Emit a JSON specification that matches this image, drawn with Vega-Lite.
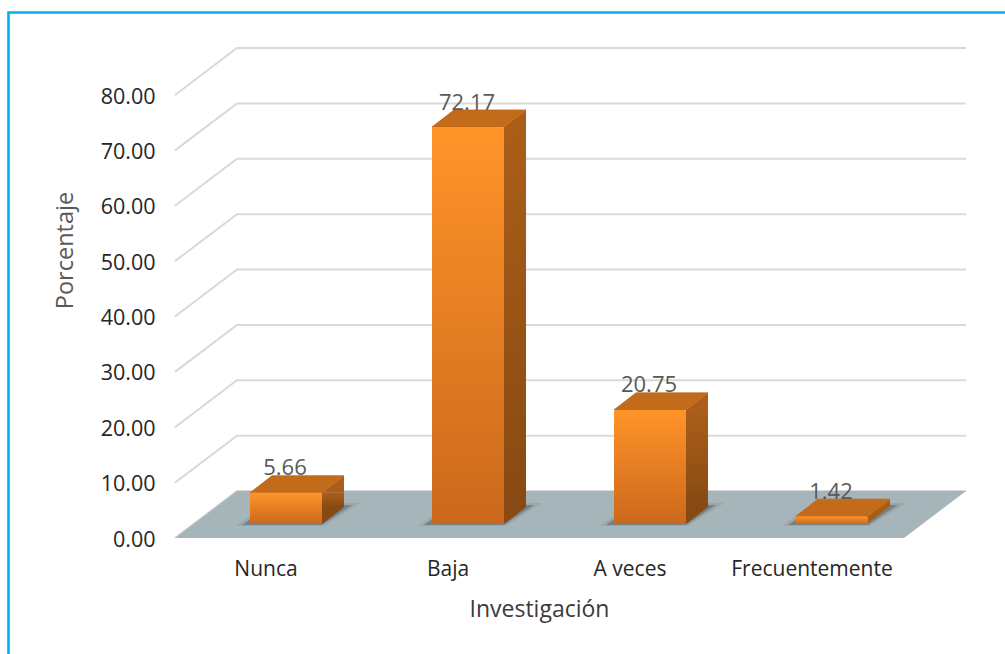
{
"$schema":"https://vega.github.io/schema/vega-lite/v6.json",
"width":728,"height":443,
"autosize":{"type":"none"},
"padding":{"left":175,"right":102,"top":95,"bottom":116},
"background":"white",
"config":{"view":{"stroke":null},"font":"Open Sans"},
"datasets":{
"bars":[{"categoria":"Nunca","valor":5.66},{"categoria":"Baja","valor":72.17},{"categoria":"A veces","valor":20.75},{"categoria":"Frecuentemente","valor":1.42}],
"ticks":[{"t":0},{"t":10},{"t":20},{"t":30},{"t":40},{"t":50},{"t":60},{"t":70},{"t":80}]
},
"layer":[
{"data":{"name":"ticks"},
 "mark":{"type":"point","shape":"M-91,0L-29,-47L700,-47","size":4,"filled":false,"stroke":"#D9D9D9","strokeWidth":2,"opacity":1},
 "encoding":{
  "x":{"datum":"Nunca","type":"nominal","scale":{"domain":["Nunca","Baja","A veces","Frecuentemente"]},
   "axis":{"title":"Investigación","labelAngle":0,"domain":false,"ticks":false,"grid":false,"labelFontSize":21,"labelColor":"#262626","labelPadding":20,"titleFontSize":23,"titleFontWeight":"normal","titleColor":"#3B3B3B","titlePadding":19,"labelFont":"Open Sans","titleFont":"Open Sans"}},
  "y":{"field":"t","type":"quantitative","scale":{"domain":[0,80]},
   "axis":{"title":"Porcentaje","values":[0,10,20,30,40,50,60,70,80],"format":".2f","domain":false,"ticks":false,"grid":false,"labelFontSize":21.5,"labelColor":"#262626","labelPadding":20,"labelOffset":2,"titleFontSize":23.5,"titleFontWeight":"normal","titleColor":"#595959","titleX":-98,"titleY":155,"labelFont":"Open Sans","titleFont":"Open Sans"}}
 }},
{"data":{"name":"bars"},
 "encoding":{
  "x":{"field":"categoria","type":"nominal","sort":["Nunca","Baja","A veces","Frecuentemente"],
   "axis":{"title":"Investigación","labelAngle":0,"domain":false,"ticks":false,"grid":false,"labelFontSize":21,"labelColor":"#262626","labelPadding":20,"titleFontSize":23,"titleFontWeight":"normal","titleColor":"#3B3B3B","titlePadding":19,"labelFont":"Open Sans","titleFont":"Open Sans"}},
  "y":{"field":"valor","type":"quantitative","scale":{"domain":[0,80.55]},"axis":null}
 },
 "layer":[
  {"transform":[{"filter":"datum.categoria==='Nunca'"}],
   "mark":{"type":"point","shape":"M-91,0L638,0L700,-47L-29,-47Z","size":4,"filled":true,"fill":"#A6B5B9","opacity":1,"strokeWidth":0},
   "encoding":{"y":{"datum":0,"type":"quantitative"}}},
  {"transform":[{"filter":"datum.valor>0"}],
   "mark":{"type":"point","shape":"M-30,-12L58,-12L94,-35L2,-35Z","size":4,"filled":true,"fill":"#8A979A","opacity":0.4,"strokeWidth":0},
   "encoding":{"y":{"datum":0,"type":"quantitative"}}},
  {"transform":[{"filter":"datum.valor>0"}],
   "mark":{"type":"point","shape":"M-24,-13L56,-13L86,-33L4,-33Z","size":4,"filled":true,"fill":"#5F6B6E","opacity":0.6,"strokeWidth":0},
   "encoding":{"y":{"datum":0,"type":"quantitative"}}},
  {"transform":[{"filter":"datum.valor>3"}],
   "mark":{"type":"bar","width":22,"xOffset":67,"yOffset":-14,"y2Offset":-31,"color":{"x1":0,"y1":0,"x2":0,"y2":1,"gradient":"linear","stops":[{"offset":0,"color":"#AB5E19"},{"offset":1,"color":"#874A12"}]}},
   "encoding":{"y2":{"datum":0}}},
  {"transform":[{"filter":"datum.valor>3"}],
   "mark":{"type":"point","shape":"M56,-14L78,-31L78,-14Z","size":4,"filled":true,"fill":"#AB5E19","opacity":1,"strokeWidth":0}},
  {"transform":[{"filter":"datum.valor>3"}],
   "mark":{"type":"point","shape":"M56,-14L56,-31L78,-31Z","size":4,"filled":true,"fill":"#874A12","opacity":1,"strokeWidth":0},
   "encoding":{"y":{"datum":0,"type":"quantitative"}}},
  {"transform":[{"filter":"datum.valor<=3"}],
   "mark":{"type":"point","shape":"M56,-14L78,-31L78,-24L56,-7Z","size":4,"filled":true,"fill":"#A85C18","opacity":1,"strokeWidth":0}},
  {"mark":{"type":"point","shape":"M-16,-14L56,-14L78,-31L6,-31Z","size":4,"filled":true,"fill":"#C26C1B","stroke":"#C26C1B","strokeWidth":1,"strokeJoin":"round","opacity":1}},
  {"mark":{"type":"bar","width":72,"xOffset":20,"yOffset":-14,"y2Offset":-14,"cornerRadius":2,"color":{"x1":0,"y1":0,"x2":0,"y2":1,"gradient":"linear","stops":[{"offset":0,"color":"#FF9429"},{"offset":1,"color":"#CB681C"}]}},
   "encoding":{"y2":{"datum":0}}},
  {"mark":{"type":"text","dx":19,"dy":-38.5,"fontSize":22,"color":"#595959","font":"Open Sans"},
   "encoding":{"text":{"field":"valor","type":"quantitative","format":".2f"}}},
  {"transform":[{"filter":"datum.categoria==='Nunca'"}],
   "mark":{"type":"point","shape":"M-257.5,122L-257.5,-525.5L744,-525.5","size":4,"filled":false,"stroke":"#00B0F0","strokeWidth":2.6,"opacity":1},
   "encoding":{"y":{"datum":0,"type":"quantitative"}}}
 ]}
],
"resolve":{"scale":{"y":"independent"}}
}
